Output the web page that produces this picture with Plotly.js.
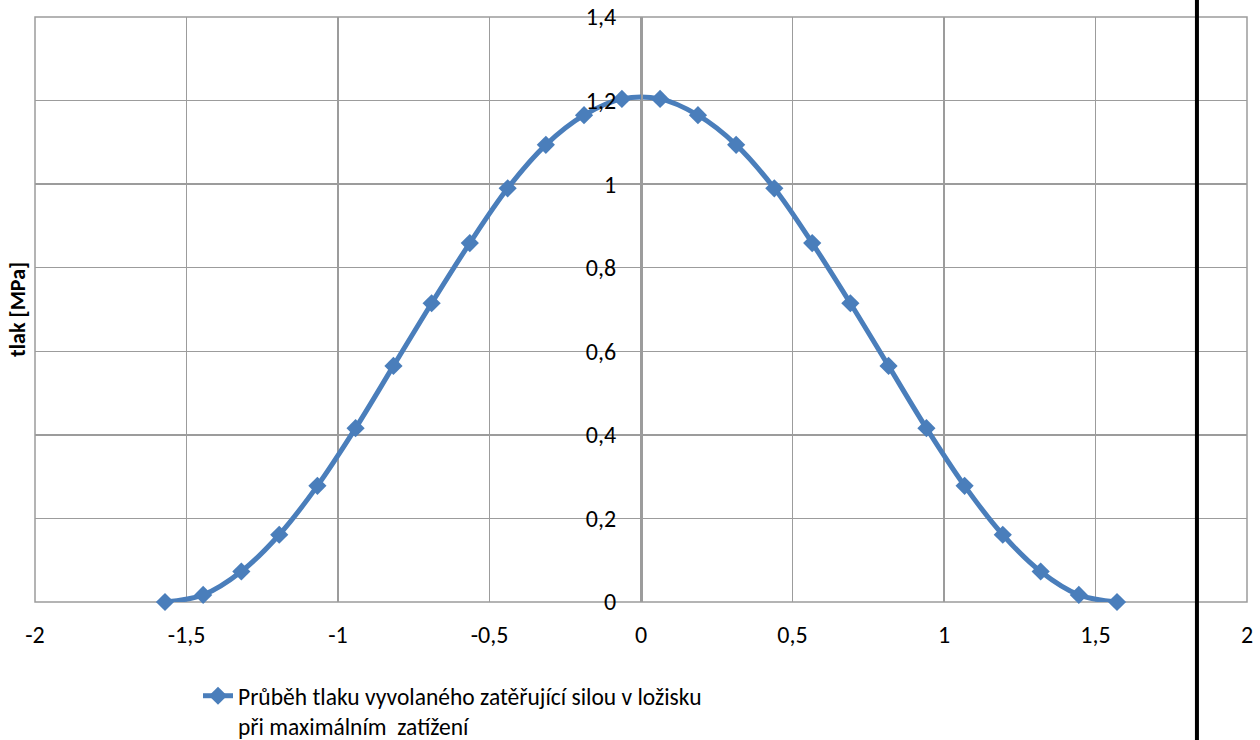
<!DOCTYPE html>
<html>
<head>
<meta charset="utf-8">
<script src="https://cdn.plot.ly/plotly-3.0.1.min.js"></script>
<style>html,body{margin:0;padding:0;background:#fff;}#chart{width:1260px;height:740px;}</style>
</head>
<body>
<div id="chart"></div>
<script>
// Angle positions (rad) and pressure (MPa)
const angle = [-1.571, -1.445, -1.319, -1.194, -1.068, -0.942, -0.817, -0.691, -0.565, -0.440, -0.314, -0.188, -0.063,
               0.063, 0.188, 0.314, 0.440, 0.565, 0.691, 0.817, 0.942, 1.068, 1.194, 1.319, 1.445, 1.571];
const pressure = [0.000, 0.017, 0.073, 0.161, 0.278, 0.416, 0.565, 0.715, 0.859, 0.990, 1.094, 1.165, 1.204,
                  1.204, 1.165, 1.094, 0.990, 0.859, 0.715, 0.565, 0.416, 0.278, 0.161, 0.073, 0.017, 0.000];
const seriesName = 'Průběh tlaku vyvolaného zatěřující silou v ložisku<br>při maximálním  zatížení';
const xTickVals = [-2, -1.5, -1, -0.5, 0, 0.5, 1, 1.5, 2];
const xTickText = ['-2', '-1,5', '-1', '-0,5', '0', '0,5', '1', '1,5', '2'];
const yTickVals = [0, 0.2, 0.4, 0.6, 0.8, 1, 1.2, 1.4];
const yTickText = ['0', '0,2', '0,4', '0,6', '0,8', '1', '1,2', '1,4'];
const yTitle = 'tlak [MPa]';

const FONT = 'Carlito, Lato, "Liberation Sans", sans-serif';
const grid = '#9c9c9c';

const trace = {
  x: angle, y: pressure, type: 'scatter', mode: 'lines+markers', name: seriesName,
  line: {color: '#4a7ebb', width: 5, shape: 'spline', smoothing: 1},
  marker: {symbol: 'diamond', size: 14, color: '#4a7ebb'},
  cliponaxis: false
};

const layout = {
  width: 1260, height: 740,
  margin: {l: 35, r: 13, t: 17, b: 138, autoexpand: false},
  paper_bgcolor: '#fff', plot_bgcolor: '#fff',
  font: {family: FONT, size: 24, color: '#000'},
  separators: ', ',
  showlegend: true,
  legend: {x: 0.1345, xanchor: 'left', y: -0.123, yanchor: 'top', valign: 'top',
           font: {family: FONT, size: 23.5, color: '#000'},
           bgcolor: 'rgba(0,0,0,0)', tracegroupgap: 0},
  xaxis: {range: [-2, 2], tickvals: xTickVals, ticktext: xTickText, showgrid: true, gridcolor: grid, gridwidth: 1.5,
          zeroline: false, showline: false, ticks: '', ticklabelstandoff: 16, fixedrange: true, automargin: false},
  yaxis: {range: [0, 1.4], tickvals: yTickVals, ticktext: yTickText, showgrid: true, gridcolor: grid, gridwidth: 1.5,
          zeroline: false, showline: true, linecolor: grid, linewidth: 1.5, ticks: '',
          anchor: 'free', position: 0.5, ticklabelstandoff: 20, fixedrange: true, automargin: false},
  annotations: [{text: '<b>' + yTitle + '</b>', xref: 'paper', yref: 'paper', x: -0.0145, y: 0.5,
                 xanchor: 'center', yanchor: 'middle', textangle: -90, showarrow: false,
                 font: {family: FONT, size: 22, color: '#000'}}],
  shapes: [
    {type: 'rect', xref: 'paper', yref: 'paper', x0: 0, x1: 1, y0: 0, y1: 1,
     line: {color: grid, width: 1.5}, fillcolor: 'rgba(0,0,0,0)', layer: 'below'},
    {type: 'line', xref: 'paper', yref: 'paper', x0: 0.9587, x1: 0.9587, y0: -0.236, y1: 1.03,
     line: {color: '#000', width: 4}, layer: 'above'}
  ]
};

Plotly.newPlot('chart', [trace], layout, {displayModeBar: false, staticPlot: true});
</script>
</body>
</html>
